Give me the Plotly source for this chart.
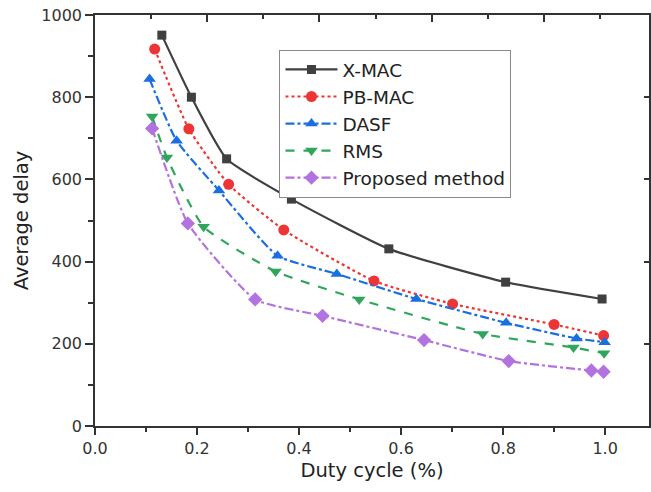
import plotly.graph_objects as go

# Data
xmac_x = [0.131, 0.189, 0.258, 0.385, 0.576, 0.805, 0.994]
xmac_y = [951, 800, 650, 552, 431, 350, 309]

pbmac_x = [0.117, 0.184, 0.262, 0.370, 0.547, 0.701, 0.900, 0.997]
pbmac_y = [917, 723, 588, 477, 353, 297, 247, 220]

dasf_x = [0.107, 0.160, 0.243, 0.358, 0.474, 0.630, 0.806, 0.944, 0.999]
dasf_y = [844, 694, 573, 414, 370, 309, 251, 213, 204]

rms_x = [0.112, 0.141, 0.213, 0.354, 0.518, 0.760, 0.938, 0.998]
rms_y = [753, 653, 485, 376, 308, 224, 191, 177]

prop_x = [0.112, 0.182, 0.314, 0.446, 0.645, 0.811, 0.973, 0.997]
prop_y = [724, 493, 308, 268, 209, 158, 135, 132]

series = [
    ("X-MAC", xmac_x, xmac_y, "#404040", "solid", "square", 9),
    ("PB-MAC", pbmac_x, pbmac_y, "#ee3535", "dot", "circle", 11),
    ("DASF", dasf_x, dasf_y, "#1a6ee0", "dashdot", "triangle-up", 11),
    ("RMS", rms_x, rms_y, "#2fa65c", "dash", "triangle-down", 11),
    ("Proposed method", prop_x, prop_y, "#b273e0", "dashdot", "diamond", 11),
]

fig = go.Figure()
for name, xs, ys, col, dash, sym, ms in series:
    fig.add_trace(go.Scatter(
        x=xs, y=ys, name=name, mode="lines+markers",
        line=dict(color=col, width=2.2, dash=dash, shape="spline", smoothing=0.5),
        marker=dict(symbol=sym, size=ms, color=col),
    ))

XR = [0, 1.086]
FONT = "DejaVu Sans, Arial, sans-serif"
axis_font = dict(family=FONT, size=16, color="#333")

fig.update_layout(
    width=651, height=492,
    margin=dict(l=95, r=0, t=15, b=66),
    plot_bgcolor="white", paper_bgcolor="white",
    font=dict(family=FONT, color="#222"),
    showlegend=True,
    legend=dict(
        x=0.333, y=0.915, xanchor="left", yanchor="top",
        bgcolor="white", bordercolor="#8a8a8a", borderwidth=1,
        font=dict(size=18.5, color="#222"),
        tracegroupgap=0, itemwidth=52,
    ),
    xaxis=dict(
        range=XR, tickvals=[0, 0.2, 0.4, 0.6, 0.8, 1.0],
        ticktext=["0.0", "0.2", "0.4", "0.6", "0.8", "1.0"],
        ticks="outside", ticklen=7, tickwidth=1.5, tickcolor="#333",
        minor=dict(tickvals=[0.1, 0.3, 0.5, 0.7, 0.9], ticks="outside", ticklen=4, tickcolor="#333"),
        showline=True, linecolor="#333", linewidth=1.5, mirror=True,
        showgrid=False, zeroline=False, tickfont=axis_font,
        title=dict(text="Duty cycle (%)", font=dict(size=19.5, color="#222"), standoff=6),
    ),
    yaxis=dict(
        range=[0, 1000], tickvals=[0, 200, 400, 600, 800, 1000],
        ticks="outside", ticklen=8, tickwidth=1.5, tickcolor="#333",
        minor=dict(tickvals=[100, 300, 500, 700, 900], ticks="outside", ticklen=5, tickcolor="#333"),
        showline=True, linecolor="#333", linewidth=1.5, mirror=True,
        showgrid=False, zeroline=False, tickfont=axis_font,
        title=dict(text="Average delay", font=dict(size=19.5, color="#222"), standoff=8),
    ),
    xaxis2=dict(
        range=XR, overlaying="x", side="top", anchor="y",
        tick0=0, dtick=0.22, ticks="inside", ticklen=7, tickwidth=1.5, tickcolor="#333",
        minor=dict(tick0=0.11, dtick=0.22, ticks="inside", ticklen=4, tickcolor="#333"),
        showticklabels=False, showgrid=False, zeroline=False, showline=False,
    ),
    yaxis2=dict(
        range=[0, 1000], overlaying="y", side="right", anchor="x",
        tickvals=[200, 400, 600, 800], ticks="inside", ticklen=5, tickwidth=1.5, tickcolor="#333",
        showticklabels=False, showgrid=False, zeroline=False, showline=False,
    ),
)

# invisible helper trace so the mirrored tick axes are drawn
fig.add_trace(go.Scatter(x=[None], y=[None], xaxis="x2", yaxis="y2", showlegend=False, hoverinfo="skip"))

fig.write_html("out.html")
